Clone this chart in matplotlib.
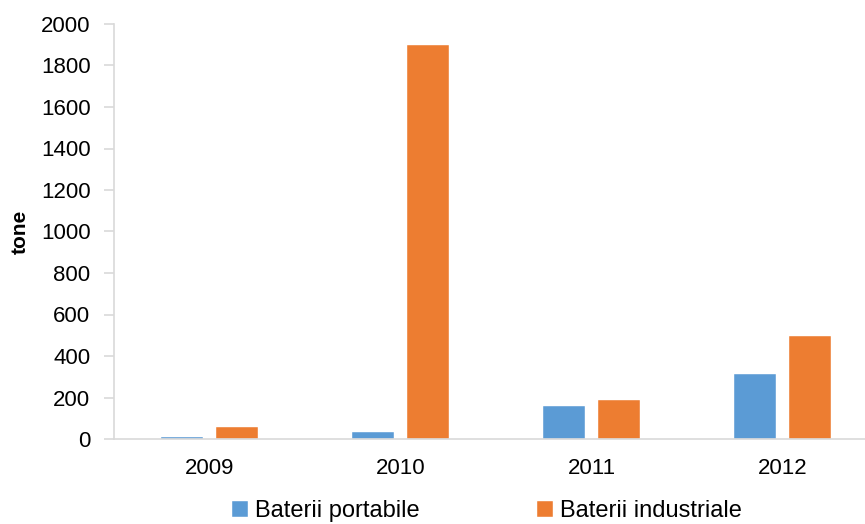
import numpy as np
import matplotlib
matplotlib.use("Agg")
import matplotlib.pyplot as plt

plt.rcParams['font.family'] = ['Liberation Sans', 'DejaVu Sans']

years = ["2009", "2010", "2011", "2012"]
portabile = [12, 34, 157, 313]
industriale = [60, 1900, 189, 494]
series_names = ["Baterii portabile", "Baterii industriale"]

blue = "#5B9BD5"
orange = "#ED7D31"
axis_grey = "#D9D9D9"

fig = plt.figure(figsize=(8.65, 5.24), dpi=100)
ax = fig.add_axes([114 / 865, 1 - 439 / 524, (878 - 114) / 865, (439 - 24) / 524])

x = np.arange(len(years))
w = 0.225
off = 0.144
ax.bar(x - off, portabile, w, color=blue, edgecolor="white", linewidth=0.3, label=series_names[0])
ax.bar(x + off, industriale, w, color=orange, edgecolor="white", linewidth=0.3, label=series_names[1])

ax.set_xlim(-0.5, 3.5)
ax.set_ylim(0, 2000)
ax.set_yticks(range(0, 2001, 200))
ax.set_xticks(x)
ax.set_xticklabels(years)

for s in ["top", "right"]:
    ax.spines[s].set_visible(False)
for s in ["left", "bottom"]:
    ax.spines[s].set_color(axis_grey)
    ax.spines[s].set_linewidth(1.2)

ax.tick_params(axis="y", length=7, width=1.2, color=axis_grey, labelsize=16, pad=10)
ax.tick_params(axis="x", length=0, labelsize=16, pad=14)

ax.set_ylabel("tone", fontsize=15, fontweight="bold", labelpad=8)

fig.legend(loc="center", bbox_to_anchor=(487 / 865, 1 - 511 / 524), ncol=2,
           frameon=False, fontsize=17, handlelength=0.65, handleheight=0.65,
           handletextpad=0.3, columnspacing=5.0, borderpad=0.1)

fig.savefig("out.png", dpi=100)
